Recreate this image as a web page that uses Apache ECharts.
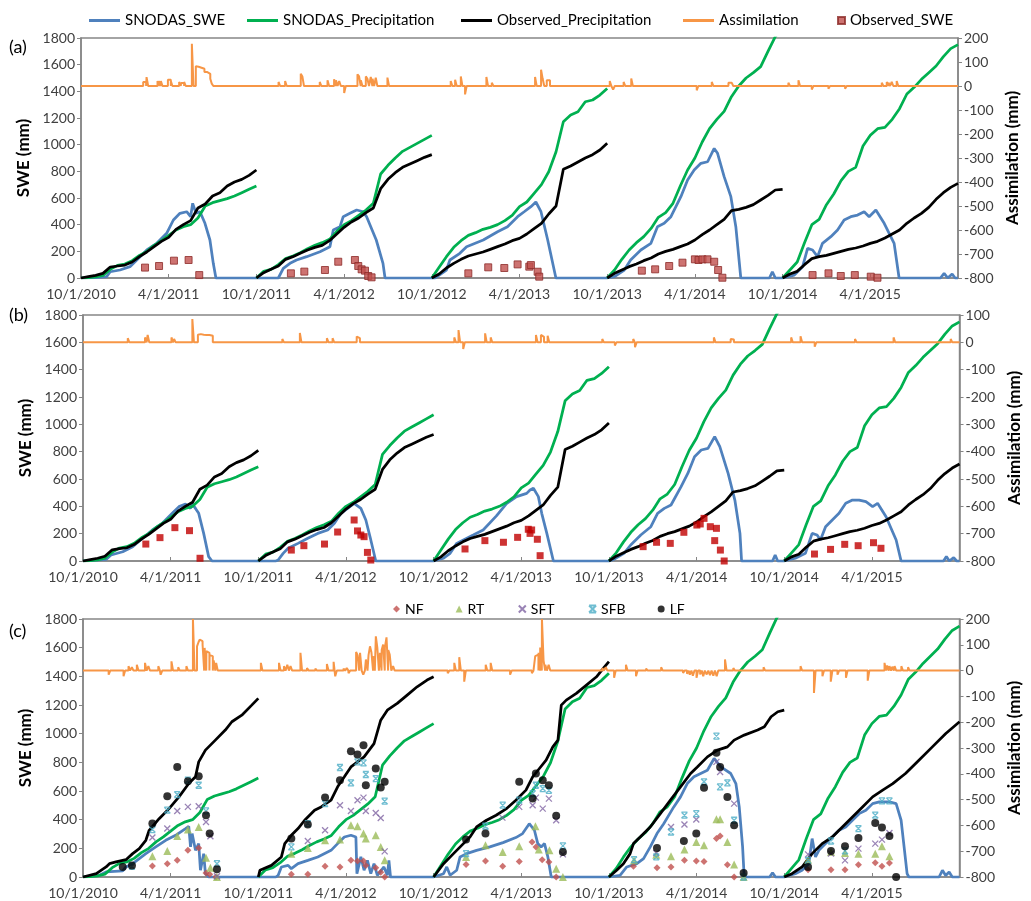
<!DOCTYPE html>
<html><head><meta charset="utf-8">
<script src="https://cdn.jsdelivr.net/npm/echarts@6/dist/echarts.min.js"></script>
<style>html,body{margin:0;padding:0;background:#fff}#c{width:1031px;height:901px}</style>
</head><body><div id="c"></div>
<script>
// x unit: months since 10/1/2010
const xTickLabels = ['10/1/2010','4/1/2011','10/1/2011','4/1/2012','10/1/2012','4/1/2013','10/1/2013','4/1/2014','10/1/2014','4/1/2015'];

// Half-month grid values per water year (i = 0..24)
const snodasPrecip = [
 [0,2,8,20,65,95,105,130,170,200,245,280,320,360,385,400,450,540,565,580,595,615,640,665,690],
 [0,50,65,100,145,165,190,220,245,265,290,350,400,430,470,510,560,780,845,900,950,980,1010,1040,1070],
 [0,80,160,230,280,320,340,365,380,400,430,470,535,570,635,700,797,947,1172,1222,1247,1322,1335,1372,1422],
 [0,60,140,210,265,310,372,455,490,560,690,810,900,1020,1120,1190,1250,1360,1440,1500,1540,1585,1700,1810,1880],
 [0,60,120,265,400,440,550,630,730,800,830,990,1070,1120,1130,1190,1270,1380,1430,1490,1540,1590,1660,1720,1750]
];
const observedPrecipAB = [
 [0,10,20,35,82,90,97,120,160,195,235,275,305,365,400,430,525,555,615,640,690,720,740,770,810],
 [0,40,65,90,140,160,185,210,230,245,280,330,380,420,450,490,525,670,740,790,830,855,880,905,925],
 [0,30,75,110,140,165,180,195,215,235,255,280,297,330,370,410,480,540,815,840,870,900,925,960,1010],
 [0,35,60,85,105,130,150,180,200,215,235,255,285,325,360,400,440,505,515,530,550,585,620,660,665],
 [0,30,50,100,145,160,170,185,200,215,225,240,260,275,300,330,360,410,450,485,530,590,640,680,710]
];
const observedPrecipC = [
 [[0,0],[0.91,23],[1.58,70],[1.81,93],[2.26,105],[2.94,121],[3.4,163],[3.85,198],[4.3,256],[4.53,326],[5.21,407],[5.89,477],[6.57,559],[7.24,652],[7.7,699],[7.92,803],[8.38,885],[9.06,955],[9.74,1025],[10.19,1083],[10.87,1129],[11.55,1199],[12,1246]],
 [[12,0],[12.11,47],[12.9,81],[13.58,140],[13.81,233],[14.26,291],[14.72,338],[15.17,396],[15.85,466],[16.3,489],[16.98,536],[17.43,629],[17.89,699],[18.34,768],[18.79,803],[19.24,838],[19.92,931],[20.38,1094],[20.83,1164],[21.51,1211],[22.19,1269],[22.87,1327],[23.55,1374],[24,1397]],
 [[24,0],[24.68,93],[25.36,163],[26.04,233],[26.49,279],[26.94,349],[27.62,396],[28.28,431],[28.96,475],[29.63,536],[30.32,606],[30.78,699],[31.24,757],[31.7,815],[32.16,908],[32.51,955],[32.74,1199],[33.08,1234],[33.77,1281],[34.46,1339],[35.15,1397],[35.61,1455],[36,1502]],
 [[36,0],[36.53,47],[36.99,93],[37.45,163],[37.68,233],[38.14,279],[38.83,349],[39.52,442],[40.21,536],[40.9,629],[41.59,722],[42.05,768],[42.74,838],[43.43,885],[44.11,908],[44.57,955],[45.26,990],[46.18,1025],[46.64,1048],[47.1,1118],[47.56,1153],[48,1164]],
 [[48,0],[48.53,23],[49.22,70],[49.91,163],[50.6,233],[51.29,279],[51.98,349],[52.67,419],[53.36,489],[54.05,559],[54.74,606],[55.43,652],[56.3,722],[57.22,815],[58.14,908],[59.06,1001],[60,1083]]
];
const snodasSweA = [[0,0],[1,2],[1.75,10],[2.0,47],[2.67,60],[3.35,85],[4.04,160],[4.5,210],[5.18,260],[5.86,335],[6.32,435],[6.77,485],[7.23,497],[7.5,460],[7.64,560],[7.87,485],[8.14,497],[8.48,410],[8.82,285],[9.05,110],[9.23,0],
[13.5,0],[13.61,10],[13.84,72],[14.3,110],[14.75,135],[15.44,160],[16.35,197],[17.03,235],[17.26,360],[17.72,385],[17.94,460],[18.4,485],[18.86,510],[19.31,497],[19.54,460],[20.2,285],[20.66,110],[20.8,0],
[24.21,0],[25.0,60],[25.24,135],[25.92,185],[26.38,235],[27.52,285],[28.5,347],[29.18,385],[29.87,460],[30.32,497],[30.78,535],[31.12,570],[31.47,497],[31.93,285],[32.49,0],
[36,0],[36.5,10],[37.17,60],[37.6,135],[38.3,210],[38.99,260],[39.44,385],[39.9,410],[40.36,460],[41.04,610],[41.5,735],[41.95,810],[42.41,860],[42.87,872],[43.32,972],[43.55,935],[44.0,760],[44.46,610],[44.8,385],[45.14,0],
[47.1,0],[47.3,47],[47.5,0],
[48,0],[48.8,22],[49.37,85],[49.71,222],[50.05,210],[50.39,160],[50.73,260],[51.3,310],[51.76,360],[52.21,435],[52.67,460],[53.13,472],[53.58,497],[53.92,460],[54.38,510],[54.95,410],[55.63,260],[55.97,0],
[58.8,0],[59.05,35],[59.3,0],[59.6,30],[59.8,0],[60,0]];
const snodasSweB = [[0,0],[1.58,12],[1.92,44],[2.72,68],[3.4,105],[4.08,166],[4.75,227],[5.43,276],[6.11,349],[6.57,398],[7.02,417],[7.36,385],[7.47,420],[7.7,385],[7.92,349],[8.26,202],[8.6,32],[8.83,0],
[13.2,0],[13.36,7],[13.7,56],[14.04,93],[14.72,129],[15.39,166],[16.07,202],[16.75,227],[17.21,276],[17.66,349],[18.11,385],[18.56,422],[18.68,434],[19.02,385],[19.36,300],[19.7,154],[20.04,0],
[24,0],[24.68,20],[25.13,56],[25.58,129],[26.04,154],[26.71,190],[27.39,227],[28.3,330],[28.99,420],[29.68,471],[30.37,495],[30.6,520],[30.83,532],[31.17,471],[31.4,349],[31.75,202],[32.2,0],
[36,0],[36.34,12],[37.03,56],[37.49,117],[38.18,190],[38.87,251],[39.33,349],[39.79,385],[40.25,410],[40.94,544],[41.4,641],[41.86,763],[42.32,812],[42.78,824],[43.24,910],[43.59,837],[44.16,641],[44.62,446],[44.97,202],[45.08,0],
[47.2,0],[47.38,44],[47.55,0],
[48,0],[48.76,20],[49.45,56],[49.91,202],[50.25,190],[50.48,154],[50.83,251],[51.29,300],[51.75,349],[52.21,422],[52.67,446],[53.13,446],[53.59,434],[54.05,398],[54.39,422],[54.97,324],[55.66,154],[56.0,0],
[58.9,0],[59.1,32],[59.3,0],[59.6,25],[59.8,0],[60,0]];
const snodasSweC = [[0,0],[1.13,12],[1.58,35],[2.72,42],[2.94,70],[3.4,93],[3.85,128],[4.3,163],[4.98,210],[5.66,256],[6.34,291],[7.02,338],[7.24,354],[7.36,210],[7.47,303],[7.7,186],[7.92,233],[8.04,47],[8.26,163],[8.38,23],[8.6,0],
[13.2,0],[13.36,12],[13.58,70],[14.04,81],[14.26,58],[14.72,93],[15.39,116],[16.07,140],[16.98,186],[17.43,233],[17.89,279],[18.34,291],[18.68,279],[18.75,23],[19.02,140],[19.24,47],[19.47,116],[19.7,23],[19.92,93],[20.15,12],[20.6,70],[20.83,12],[20.94,116],[21.05,0],
[24,0],[24.68,23],[24.9,70],[25.13,12],[25.58,47],[25.81,140],[26.26,163],[26.94,186],[27.85,210],[28.75,240],[29.63,275],[30.09,303],[30.55,372],[30.9,326],[31.13,233],[31.36,210],[31.59,233],[31.82,140],[32.05,0],
[36,0],[36.76,12],[37.22,70],[37.91,93],[38.37,128],[38.83,210],[39.29,303],[39.75,372],[40.44,489],[40.9,559],[41.36,652],[41.82,699],[42.28,722],[42.74,745],[43.2,827],[43.66,768],[44.34,722],[44.69,652],[44.92,489],[45.15,210],[45.26,0],
[47.0,0],[47.2,30],[47.4,0],
[48,0],[48.76,23],[49.22,47],[49.68,93],[49.91,268],[50.14,140],[50.37,186],[50.83,233],[51.29,279],[51.75,326],[52.21,349],[52.67,396],[53.13,442],[53.59,466],[54.05,512],[54.51,524],[55.2,524],[55.66,512],[56.0,396],[56.18,233],[56.41,23],[56.53,0],
[58.6,0],[58.83,47],[59.05,10],[59.29,35],[59.5,0],[60,0]];

// Assimilation (mm): non-zero daily values [month, value]; zero elsewhere
const assimilationA = [[4.31,17],[4.4,17],[4.54,37],[5.29,21],[5.4,21],[5.52,21],[6.0,26],[6.09,26],[6.2,21],[6.77,17],[6.9,12],[7.0,12],[7.11,17],[7.64,176],
[7.91,82],[8.0,80],[8.1,76],[8.2,76],[8.3,72],[8.4,72],[8.5,58],[8.6,58],[8.7,51],[8.8,51],[8.9,30],[9.0,10],
[13.57,17],[14.02,21],[15.09,51],[15.2,40],[16.39,17],[16.92,24],[17.37,28],[17.5,24],[17.72,21],[18.06,-29],[18.97,49],[19.08,40],[19.2,24],[19.54,40],[19.65,30],[19.88,38],[20.0,30],[20.22,35],[21.02,35],
[25.35,21],[25.65,26],[26.04,40],[26.33,-35],[27.79,38],[28.16,14],[31.12,38],[31.53,68],[31.64,30],[31.92,24],[32.03,24],
[36.23,21],[36.46,-15],[37.18,17],[37.7,31],[42.18,-18],[43.21,17],[44.35,14],[44.46,14],[44.57,10],
[48.45,14],[49.14,24],[50.05,-15],[51.19,-11],[52.33,-11],[54.84,14],[55.18,17],[55.3,14],[55.52,17],[55.86,21]];
const assimilationB = [[3.12,15],[4.3,18],[4.48,27],[6.11,18],[6.29,12],[7.54,85],[7.92,28],[8.02,30],[8.12,30],[8.22,28],[8.32,28],[8.42,27],[8.52,27],[8.62,27],[8.72,24],[8.83,24],
[13.7,12],[14.9,34],[16.75,15],[17.14,15],[18.79,21],[18.9,15],
[24.9,-6],[25.47,18],[25.76,45],[26.08,-24],[27.58,33],[27.96,18],[31.06,27],[31.4,27],[31.5,20],[31.86,24],
[35.6,12],[36.46,-12],[37.72,12],[37.84,-18],[43.24,18],[44.39,12],[44.5,10],
[48.53,18],[49.17,22],[50.14,-16],[52.9,12],[55.54,18],[59.45,12]];
const assimilationC = [[1.81,-16],[2.83,-22],[3.17,17],[3.4,13],[3.74,23],[4.3,30],[4.53,17],[5.21,17],[5.37,-16],[6.11,36],[6.57,13],[7.13,17],[7.58,200],[7.86,94],[7.96,110],[8.04,120],[8.14,114],[8.24,100],[8.38,88],[8.5,75],[8.6,69],[8.72,60],[8.83,56],[9.0,40],[9.17,30],
[12.23,30],[13.47,30],[13.81,17],[14.04,23],[14.26,17],[14.94,69],[15.39,10],[15.96,8],[16.75,26],[17.21,34],[17.32,-22],[17.89,8],[18.11,10],[18.23,-10],[18.75,72],[18.85,60],[19.02,69],[19.24,-16],[19.42,43],[19.6,60],[19.7,94],[19.8,70],[19.92,56],[20.1,133],[20.2,90],[20.38,69],[20.5,80],[20.6,101],[20.72,90],[20.83,129],[20.95,80],[21.05,62],[21.28,17],
[25.02,-10],[25.47,30],[25.81,52],[26.15,-43],[27.62,23],[27.96,30],[29.29,-16],[30.78,-10],[31.01,56],[31.12,62],[31.24,69],[31.35,90],[31.47,200],[31.58,40],[31.7,23],[31.93,23],
[35.6,10],[35.84,13],[36.41,-28],[37.22,23],[37.91,-22],[38.6,8],[39.63,13],[41.13,-9],[41.4,-12],[41.59,-16],[41.8,-20],[42.05,-28],[42.3,-15],[42.51,-22],[42.75,-15],[42.97,-18],[43.2,-20],[43.43,-22],[44.0,43],[44.57,10],[46.64,13],[49.17,17],
[50.09,-87],[50.67,-22],[51.24,-43],[51.7,-16],[52.28,-28],[53.77,-39],[54.92,30],[55.1,20],[55.26,17],[55.45,15],[55.61,17],[56.07,17],[56.53,13]];

const observedSweA = [[4.38,78],[5.34,90],[6.36,130],[7.36,135],[8.09,22],
[14.36,35],[15.28,48],[16.69,60],[17.6,122],[18.74,135],[18.97,90],[19.2,65],[19.43,55],[19.65,15],[19.88,5],
[26.5,35],[27.86,80],[28.96,75],[29.87,102],[30.67,85],[30.78,97],[31.24,47],[31.35,10],
[38.37,55],[39.28,65],[40.24,90],[41.15,115],[42.0,140],[42.25,135],[42.52,140],[42.86,140],[43.32,122],[43.59,60],[43.88,2],
[50.05,22],[51.14,35],[51.98,15],[52.94,22],[54.03,10],[54.49,2]];
const observedSweB = [[4.3,124],[5.27,171],[6.29,244],[7.29,222],[8.01,20],
[14.26,80],[15.12,112],[16.53,124],[17.43,212],[18.56,300],[18.79,220],[19.02,190],[19.24,178],[19.47,63],[19.7,7],
[26.15,88],[27.51,149],[28.78,137],[29.75,173],[30.48,232],[30.6,202],[30.71,227],[31.1,159],[31.29,39],
[38.34,105],[39.26,137],[40.2,129],[41.13,210],[42.02,263],[42.25,271],[42.51,312],[42.94,251],[43.24,149],[43.36,239],[43.63,80],[43.89,0],
[50.07,51],[51.17,85],[52.14,122],[53.06,112],[54.11,134],[54.62,93]];

const sweNF = [[4.75,77],[5.77,93],[6.45,116],[7.18,186],[7.92,203],[8.42,28],[8.67,19],[9.1,0],
[14.26,19],[15.39,19],[16.57,75],[17.59,70],[18.34,116],[18.79,112],[19.2,112],[19.36,81],[20.04,65],[20.38,33],[20.65,0],
[26.22,88],[27.55,112],[28.73,75],[29.86,109],[30.74,244],[31.01,210],[31.43,121],[31.89,105],[32.39,0],
[37.68,75],[39.29,65],[40.25,70],[41.17,116],[41.98,112],[42.51,109],[43.36,268],[43.61,286],[44.11,86],[44.57,0],
[49.63,51],[51.2,51],[52.16,51],[53.08,86],[54.23,100],[54.69,75],[55.2,98]];
const sweRT = [[4.75,144],[5.77,182],[6.45,286],[7.18,331],[7.92,349],[8.42,135],[8.72,65],[9.17,0],
[14.26,163],[15.39,203],[16.57,256],[17.59,261],[18.34,361],[18.79,354],[19.2,303],[19.36,268],[20.04,291],[20.38,210],[20.65,116],
[26.22,140],[27.55,221],[28.73,175],[29.86,214],[30.97,354],[31.2,191],[31.93,186],[32.39,58],[32.85,0],
[37.72,116],[39.24,156],[40.25,144],[41.17,191],[41.98,244],[42.51,221],[43.36,403],[43.61,403],[44.11,244],[44.57,88],[45.22,0],
[49.63,121],[51.2,175],[52.16,168],[53.08,163],[54.23,163],[54.69,214],[55.2,144]];
const sweSFT = [[4.75,275],[5.77,338],[6.45,461],[7.18,489],[7.92,494],[8.42,384],[8.72,284],[9.17,5],
[15.39,251],[16.57,326],[17.59,501],[18.34,461],[18.79,536],[19.2,554],[19.36,461],[20.04,447],[20.38,412],[20.65,179],
[28.71,414],[29.86,489],[30.78,501],[31.0,554],[31.47,477],[31.89,547],[32.39,396],[32.85,158],
[39.24,168],[40.25,349],[41.17,366],[41.98,401],[43.36,803],[43.61,733],[44.57,512],
[49.63,158],[51.2,163],[52.16,116],[53.08,198],[54.23,233],[54.69,261],[55.2,307]];
const sweSFB = [[3.35,75],[4.75,331],[5.77,466],[6.45,575],[7.18,675],[7.92,640],[8.42,461],[9.17,93],
[14.26,210],[15.39,373],[16.57,512],[17.59,764],[18.34,657],[18.79,803],[19.2,796],[19.36,715],[20.04,687],[20.65,529],
[26.22,163],[27.55,354],[28.73,501],[29.86,536],[30.78,582],[31.0,640],[31.47,617],[31.89,605],[32.85,217],
[37.72,121],[39.24,140],[40.25,314],[41.17,431],[41.98,442],[42.51,664],[43.36,983],[43.61,629],[44.11,657],[44.57,396],[45.22,0],
[49.63,116],[51.2,251],[52.16,182],[53.08,338],[54.23,431],[54.69,531],[55.2,531]];
const sweLF = [[2.72,70],[3.35,81],[4.75,373],[5.77,564],[6.45,768],[7.18,668],[7.92,703],[8.42,431],[8.67,303],[9.17,54],
[14.26,268],[15.39,366],[16.57,554],[17.59,675],[18.34,878],[18.79,855],[19.2,920],[19.36,640],[20.04,757],[20.38,624],[20.65,664],
[26.22,261],[27.55,303],[29.86,664],[30.78,547],[31.0,722],[31.47,675],[31.89,640],[32.39,428],[32.85,175],
[39.29,203],[41.13,251],[41.98,303],[42.51,622],[43.36,866],[43.61,768],[44.11,559],[44.57,361],[45.22,28],
[49.63,70],[51.2,182],[52.16,214],[53.08,272],[54.23,377],[54.69,345],[55.2,286],[55.66,0]];

// ---------- builders ----------
function gridYears(years){ const out=[]; years.forEach((vals,y)=>{ vals.forEach((v,i)=>out.push([y*12+i*0.5,v])); out.push([y*12+12,'-']); }); return out; }
function pairYears(years){ const out=[]; years.forEach(arr=>{ arr.forEach(p=>out.push(p)); out.push([arr[arr.length-1][0],'-']); }); return out; }
function spikeLine(list){
  const w=0.055, s=list.slice().sort((a,b)=>a[0]-b[0]); const out=[[0,0]]; let pr=-1, pv=0;
  s.forEach(([m,v])=>{ const l=m-w, r=m+w;
    if(l<=pr){ out.pop(); out.pop(); out.push([l,pv],[l,v]); } else { out.push([l,0],[l,v]); }
    out.push([r,v],[r,0]); pr=r; pv=v; });
  out.push([60,0]); return out;
}

const FONT='Lato';
const GRAY='#868686';
const grids=[{left:81,right:73,top:38,height:240},{left:83,right:71,top:315,height:246},{left:83,right:71,top:619,height:258}];
const rightMax=[200,100,200];

const xAxes=grids.map((g,i)=>({type:'value',gridIndex:i,min:0,max:60,interval:6,
  axisLine:{show:true,onZero:false,lineStyle:{color:GRAY,width:1.5}},
  axisTick:{show:true,inside:true,length:4,lineStyle:{color:GRAY}},
  axisLabel:{formatter:v=>xTickLabels[Math.round(v/6)]||'',showMaxLabel:false,fontSize:14,color:'#404040',fontFamily:FONT,margin:9},
  splitLine:{show:false}}));
const yAxes=[];
grids.forEach((g,i)=>{
  yAxes.push({type:'value',gridIndex:i,position:'left',min:0,max:1800,interval:200,
    name:'SWE (mm)',nameLocation:'middle',nameGap:40,nameTextStyle:{fontWeight:'bold',fontSize:17,color:'#000',fontFamily:FONT},
    axisLine:{show:true,lineStyle:{color:GRAY,width:1.5}},axisTick:{show:true,length:4,lineStyle:{color:GRAY}},
    axisLabel:{formatter:v=>String(v),fontSize:14,color:'#404040',fontFamily:FONT,margin:6},splitLine:{show:false}});
  yAxes.push({type:'value',gridIndex:i,position:'right',min:-800,max:rightMax[i],interval:100,
    name:'Assimilation (mm)',nameLocation:'middle',nameGap:46,nameRotate:90,nameTextStyle:{fontWeight:'bold',fontSize:17,color:'#000',fontFamily:FONT},
    axisLine:{show:true,lineStyle:{color:GRAY,width:1.5}},axisTick:{show:true,length:4,lineStyle:{color:GRAY}},
    axisLabel:{formatter:v=>String(v),fontSize:14,color:'#404040',fontFamily:FONT,margin:6},splitLine:{show:false}});
});

const C={swe:'#4F81BD',sp:'#00B050',op:'#000000',as:'#F79646',os:'#C0504D'};
function line(name,data,gi,right,color,width){ return {name,type:'line',xAxisIndex:gi,yAxisIndex:gi*2+(right?1:0),data,symbol:'none',showSymbol:false,
  lineStyle:{color,width:width||2.75},itemStyle:{color},connectNulls:false,animation:false,silent:true,z:2}; }
function scat(name,data,gi,symbol,size,style){ return {name,type:'scatter',xAxisIndex:gi,yAxisIndex:gi*2,data,symbol,symbolSize:size,itemStyle:style,animation:false,silent:true,z:5}; }

const sp=gridYears(snodasPrecip), opAB=gridYears(observedPrecipAB), opC=pairYears(observedPrecipC);
const series=[
  line('SNODAS_SWE',snodasSweA,0,false,C.swe),
  line('SNODAS_Precipitation',sp,0,false,C.sp),
  line('Observed_Precipitation',opAB,0,false,C.op),
  line('Assimilation',spikeLine(assimilationA),0,true,C.as,2),
  scat('Observed_SWE',observedSweA,0,'rect',7,{color:'#C0504D',borderColor:'#8C2A28',borderWidth:1}),
  line('SNODAS_SWE',snodasSweB,1,false,C.swe),
  line('SNODAS_Precipitation',sp,1,false,C.sp),
  line('Observed_Precipitation',opAB,1,false,C.op),
  line('Assimilation',spikeLine(assimilationB),1,true,C.as,2),
  scat('Observed_SWE',observedSweB,1,'rect',7,{color:'#C00000'}),
  line('SNODAS_SWE',snodasSweC,2,false,C.swe),
  line('SNODAS_Precipitation',sp,2,false,C.sp),
  line('Observed_Precipitation',opC,2,false,C.op),
  line('Assimilation',spikeLine(assimilationC),2,true,C.as,2),
  scat('NF',sweNF,2,'diamond',7,{color:'#C0504D'}),
  scat('RT',sweRT,2,'triangle',8,{color:'#9BBB59'}),
  scat('SFT',sweSFT,2,'path://M0,0L10,10M10,0L0,10',6,{color:'none',borderColor:'#8064A2',borderWidth:1.3}),
  scat('SFB',sweSFB,2,'path://M0,0L10,10M10,0L0,10M0,0L10,0M0,10L10,10',6,{color:'none',borderColor:'#4BACC6',borderWidth:1.3}),
  scat('LF',sweLF,2,'circle',8,{color:'#000'})
];

const legendText={fontSize:15,color:'#000',fontFamily:FONT};
const topLegendLines=[['SNODAS_SWE',89],['SNODAS_Precipitation',247],['Observed_Precipitation',461],['Assimilation',683]];
const legends=topLegendLines.map(([n,x])=>({data:[{name:n,icon:'rect'}],left:x,top:13,itemWidth:31,itemHeight:3,itemGap:0,textStyle:legendText,selectedMode:false,padding:0}));
legends.push({data:[{name:'Observed_SWE',icon:'rect'}],left:837,top:13,itemWidth:7,itemHeight:7,textStyle:legendText,selectedMode:false,padding:0});
legends.push({data:['NF','RT','SFT','SFB','LF'],left:388,top:597,itemWidth:7,itemHeight:7,itemGap:32,textStyle:{fontSize:14,color:'#000',fontFamily:FONT},selectedMode:false});

const chart=echarts.init(document.getElementById('c'),null,{renderer:'canvas'});
chart.setOption({
  backgroundColor:'#fff',animation:false,
  grid:grids.map(g=>Object.assign({show:true,borderColor:GRAY,borderWidth:1.5,backgroundColor:'transparent'},g)),
  xAxis:xAxes,yAxis:yAxes,
  legend:legends,
  graphic:[
    {type:'text',left:9,top:38,style:{text:'(a)',fontSize:18,fill:'#000',fontFamily:FONT}},
    {type:'text',left:9,top:306,style:{text:'(b)',fontSize:18,fill:'#000',fontFamily:FONT}},
    {type:'text',left:9,top:622,style:{text:'(c)',fontSize:18,fill:'#000',fontFamily:FONT}}
  ],
  series
});
</script></body></html>
